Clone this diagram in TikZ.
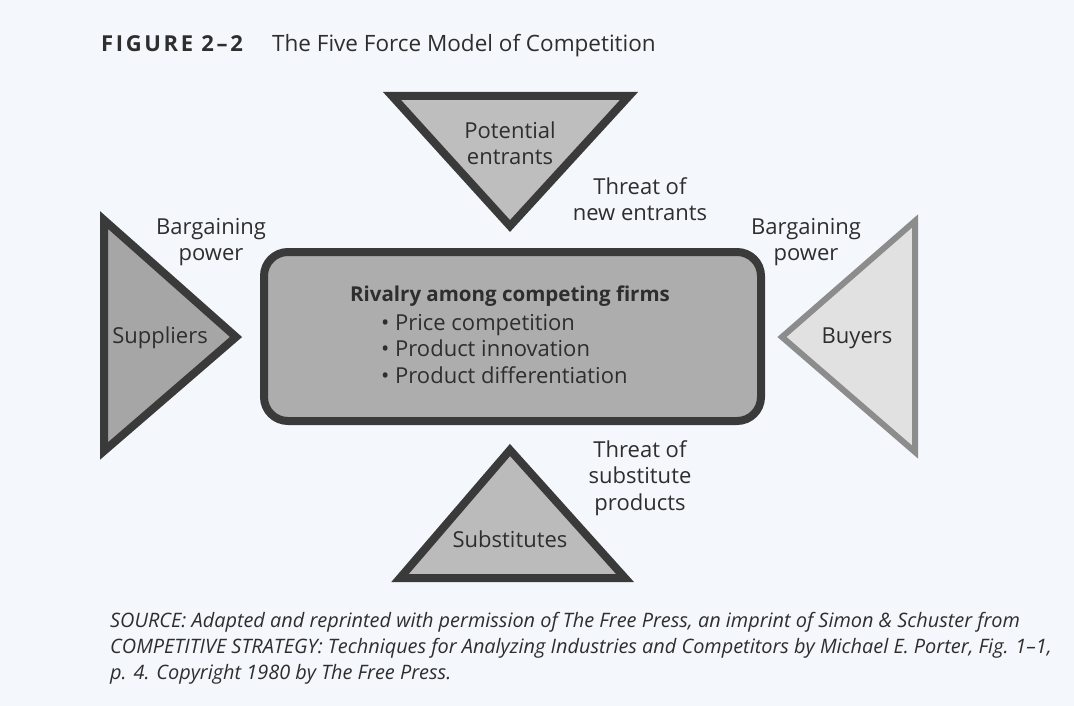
\documentclass[tikz,border=0pt]{standalone}
\usepackage{fontspec}
\setmainfont{Open Sans}
\newfontfamily\figfont[LetterSpace=12,Ligatures=TeX]{Open Sans}
\usepackage{tikz}

\definecolor{paper}{HTML}{F4F7FC}
\definecolor{ink}{HTML}{2E2E2E}
\definecolor{rim}{HTML}{3A3A3A}
\definecolor{lightrim}{HTML}{8C8C8C}
\definecolor{suppfill}{HTML}{A6A6A6}
\definecolor{entfill}{HTML}{BEBEBE}
\definecolor{boxfill}{HTML}{ADADAD}
\definecolor{subfill}{HTML}{BBBBBB}
\definecolor{buyfill}{HTML}{E1E1E1}

\begin{document}
\begin{tikzpicture}[x=1pt,y=-1pt,
    lbl/.style={text=ink,align=center,inner sep=0pt,font=\fontsize{22}{26.5}\selectfont},
    force/.style={draw=rim,line width=8pt,line join=miter}]
    \fill[paper] (0,0) rectangle (1074,706);
    \useasboundingbox (0,0) rectangle (1074,706);
    \node[anchor=base west,text=ink,inner sep=0pt,font=\fontsize{22}{22}\figfont\bfseries](fig)at (101,52){FIGURE 2--2};
    \node[anchor=base west,text=ink,inner sep=0pt,font=\fontsize{22.5}{22}\selectfont](title)at (272,52){The Five Force Model of Competition};
    \draw[force,fill=entfill] (392,96)--(629,96)--(510,226)--cycle;
    \draw[force,fill=suppfill] (104,220)--(236,337)--(104,451)--cycle;
    \draw[draw=lightrim,line width=6pt,line join=miter,fill=buyfill] (915,221)--(782,337)--(915,452)--cycle;
    \draw[force,fill=subfill] (510,450)--(625,578)--(400,578)--cycle;
    \draw[force,fill=boxfill,rounded corners=24pt] (264,252) rectangle (761,421);
    \node[lbl](pot)at (510,143){Potential\\entrants};
    \node[lbl](newent)at (640,199){Threat of\\new entrants};
    \node[lbl](bpl)at (211,242){Bargaining\\power};
    \node[lbl](bpr)at (806,242){Bargaining\\power};
    \node[lbl](supp)at (160,338){Suppliers};
    \node[lbl](buy)at (857,338){Buyers};
    \node[lbl](subst)at (640,478){Threat of\\substitute\\products};
    \node[lbl](subs)at (510,539){Substitutes};
    \node[lbl,font=\fontsize{20.5}{26.5}\selectfont\bfseries](rival)at (510,296){Rivalry among competing firms};
    \node[lbl,align=left,anchor=west](items)at (381,349){\textbullet\ Price competition\\\textbullet\ Product innovation\\\textbullet\ Product differentiation};
    \node[anchor=north west,align=left,text=ink,inner sep=0pt,font=\fontsize{19.9}{26}\selectfont\itshape](src)at (110,612.5){SOURCE: Adapted and reprinted with permission of The Free Press, an imprint of Simon \& Schuster from\\COMPETITIVE STRATEGY: Techniques for Analyzing Industries and Competitors by Michael E. Porter, Fig. 1--1,\\p. 4. Copyright 1980 by The Free Press.};
\end{tikzpicture}
\end{document}
